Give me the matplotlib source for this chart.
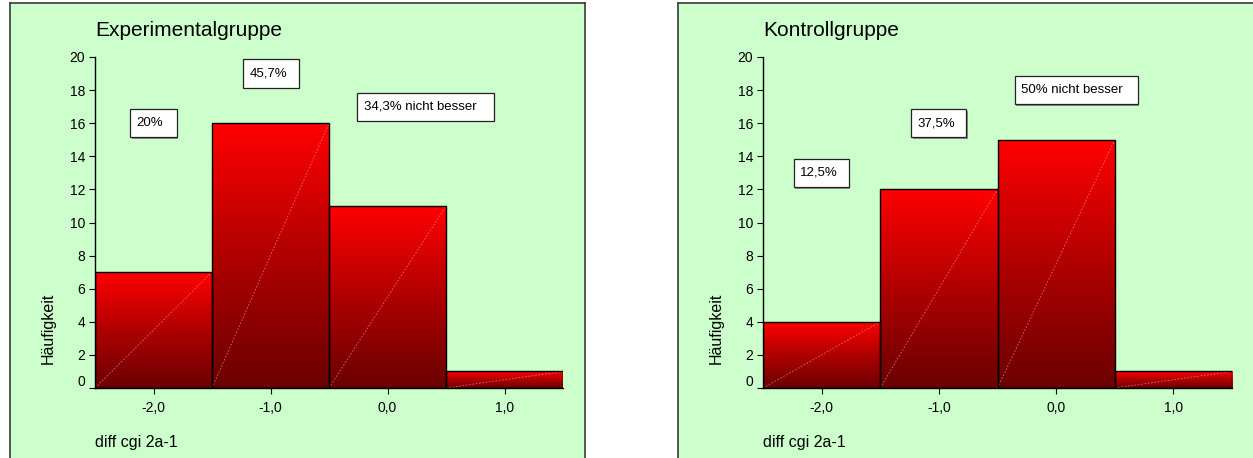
import numpy as np
import matplotlib.pyplot as plt
from matplotlib.patches import Rectangle
from matplotlib.colors import LinearSegmentedColormap
from matplotlib.transforms import ScaledTranslation

plt.rcParams['font.family'] = ['Liberation Sans', 'DejaVu Sans']

# histogram data: difference classes and counts per group
bins = [-2.0, -1.0, 0.0, 1.0]
tick_labels = ["-2,0", "-1,0", "0,0", "1,0"]
exp_counts = [7, 16, 11, 1]
ctrl_counts = [4, 12, 15, 1]
exp_notes = ["20%", "45,7%", "34,3% nicht besser"]
ctrl_notes = ["12,5%", "37,5%", "50% nicht besser"]

W, H = 1253, 458
fig = plt.figure(figsize=(W / 100, H / 100), dpi=100)
fig.patch.set_facecolor('white')

red_cmap = LinearSegmentedColormap.from_list('bar_red', ['#6a0000', '#b00000', '#ff0000'])
grad = np.linspace(0, 1, 256).reshape(-1, 1)


def fx(px):
    return px / W


def fy(py):
    return 1 - py / H


def panel_bg(x0, x1, right_border=True):
    fig.add_artist(Rectangle((fx(x0), -0.05), fx(x1) - fx(x0), fy(3) + 0.05,
                             facecolor='#ccffcc', edgecolor='none', zorder=0))
    kw = dict(color='#3a3a3a', lw=1.2, zorder=0.5)
    fig.add_artist(plt.Line2D([fx(x0), fx(x0)], [0, fy(3)], **kw))
    fig.add_artist(plt.Line2D([fx(x0), fx(x1)], [fy(3), fy(3)], **kw))
    if right_border:
        fig.add_artist(plt.Line2D([fx(x1), fx(x1)], [0, fy(3)], **kw))


def draw_hist(ax, counts, title, notes, boxes):
    ax.set_facecolor('none')
    bars = ax.bar(bins, counts, width=1.0, facecolor='none',
                  edgecolor='black', linewidth=1.0, zorder=3)
    for b in bars:
        x, w, h = b.get_x(), b.get_width(), b.get_height()
        im = ax.imshow(grad, extent=[x, x + w, 0, h], origin='lower',
                       cmap=red_cmap, aspect='auto', zorder=2)
        im.set_clip_path(b)
        ax.plot([x, x + w], [0, h], color='#ff9a9a', lw=0.6, ls=(0, (2, 2)),
                alpha=0.7, zorder=2.5)

    ax.set_xlim(-2.5, 1.5)
    ax.set_ylim(0, 20)
    ax.set_xticks(bins)
    ax.set_xticklabels(tick_labels)
    ax.set_yticks(range(0, 21, 2))
    ax.tick_params(axis='both', direction='out', length=4, width=0.8,
                   labelsize=10, colors='black')
    ax.tick_params(axis='x', pad=5)
    ax.tick_params(axis='y', pad=3)
    for s in ['top', 'right']:
        ax.spines[s].set_visible(False)
    for s in ['left', 'bottom']:
        ax.spines[s].set_linewidth(1.0)
    zero = ax.yaxis.get_major_ticks()[0].label1
    zero.set_transform(zero.get_transform() + ScaledTranslation(0, 7 / 100, fig.dpi_scale_trans))

    ax.text(0, 1.08, title, transform=ax.transAxes, fontsize=15,
            ha='left', va='center')
    ax.text(0, -0.165, "diff cgi 2a-1", transform=ax.transAxes, fontsize=11.5,
            ha='left', va='center')
    ax.text(-0.1, 0.18, "Häufigkeit", transform=ax.transAxes, fontsize=11.5,
            rotation=90, ha='center', va='center')

    for note, (x0, x1, yc) in zip(notes, boxes):
        ax.add_patch(Rectangle((x0 + 0.012, yc - 0.85 - 0.1), x1 - x0, 1.7,
                               facecolor='#8a8a8a', edgecolor='none', zorder=4))
        ax.add_patch(Rectangle((x0, yc - 0.85), x1 - x0, 1.7, facecolor='white',
                               edgecolor='#222222', linewidth=0.9, zorder=5))
        ax.text(x0 + 0.055, yc, note, fontsize=9.5, ha='left', va='center', zorder=6)


panel_bg(10, 585)
panel_bg(678, 1260, right_border=False)

ax1 = fig.add_axes([fx(95), fy(388), fx(563) - fx(95), fy(57) - fy(388)])
ax2 = fig.add_axes([fx(763), fy(388), fx(1232) - fx(763), fy(57) - fy(388)])

draw_hist(ax1, exp_counts, "Experimentalgruppe", exp_notes,
          [(-2.20, -1.80, 16.0), (-1.235, -0.756, 19.0), (-0.26, 0.906, 17.0)])
draw_hist(ax2, ctrl_counts, "Kontrollgruppe", ctrl_notes,
          [(-2.236, -1.767, 13.0), (-1.235, -0.766, 16.0), (-0.352, 0.697, 18.0)])

fig.savefig("out.png", dpi=100)
